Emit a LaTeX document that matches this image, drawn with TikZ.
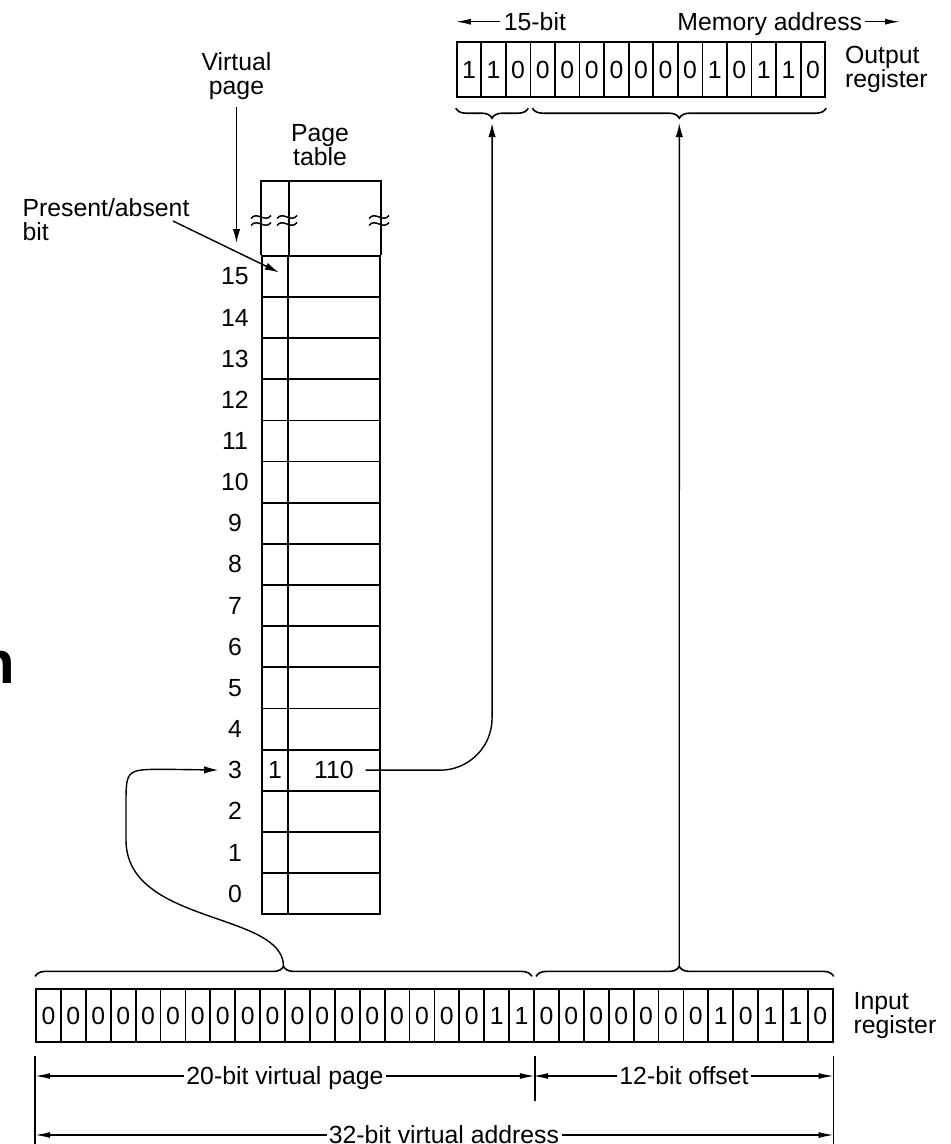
\documentclass[tikz,border=0pt]{standalone}
\usepackage{fontspec}
\setmainfont{Liberation Sans}
\usepackage{tikz}
\usetikzlibrary{positioning, arrows.meta, decorations.pathreplacing}

\begin{document}
\begin{tikzpicture}[x=1pt, y=-1pt, line width=1.8pt,
    font=\fontsize{24.8pt}{24pt}\selectfont,
    bitcell/.style={draw, inner sep=0pt, minimum width=24.9pt, minimum height=52.4pt},
    outcell/.style={bitcell, minimum width=24.57pt, minimum height=55pt},
    ptcell/.style={draw, inner sep=0pt, minimum height=41.15pt, anchor=north west},
    lbl/.style={inner sep=0pt, align=left},
    dimlbl/.style={inner sep=1.5pt, text height=17.8pt, text depth=0pt},
    conn/.style={line width=1.4pt, -{Latex[length=14pt, width=7.5pt]}},
    dimarrow/.style={line width=1.4pt, -{Latex[length=15pt, width=6pt]}},
    brc/.style={line width=1.6pt, decorate, decoration={brace, amplitude=10pt}}]
  \useasboundingbox (0,0) rectangle (951,1144);

  \node[anchor=base east, inner sep=0pt, font=\fontsize{60pt}{60pt}\selectfont\bfseries] (frag) at (16,683) {n};

  \foreach \b [count=\i from 0] in {1,1,0,0,0,0,0,0,0,0,1,0,1,1,0}
    \node[outcell] (out\i) at ({456.7+24.57*(\i+0.5)}, 69.8) {\b};
  \node[lbl, right=18pt of out14] (outlbl) {Output\\register};
  \node[dimlbl, inner sep=3pt, anchor=base west] (bits15) at (500,30.6) {15-bit};
  \node[dimlbl, inner sep=2pt, anchor=base east] (memaddr) at (865,30.6) {Memory address};
  \draw[dimarrow] (bits15.west) -- (bits15.west -| out0.west);
  \draw[dimarrow] (memaddr.east) -- ++(35,0);
  \draw[brc] ([xshift=-3pt, yshift=-10pt]out2.south east) -- ([yshift=-10pt]out0.south west)
    coordinate[midway, yshift=-10pt] (outTipL);
  \draw[brc] ([yshift=-10pt]out14.south east) -- ([xshift=3pt, yshift=-10pt]out3.south west)
    coordinate[midway, yshift=-10pt] (outTipR);

  \foreach \b [count=\i from 0] in {0,0,0,0,0,0,0,0,0,0,0,0,0,0,0,0,0,0,1,1,0,0,0,0,0,0,0,1,0,1,1,0}
    \node[bitcell] (in\i) at ({36+24.9*(\i+0.5)}, 1015.5) {\b};
  \node[lbl, right=19pt of in31] (inlbl) {Input\\register};
  \draw[brc] ([yshift=12pt]in0.north west) -- ([xshift=-3pt, yshift=12pt]in19.north east)
    coordinate[midway, yshift=10pt] (inTipL);
  \draw[brc, decoration={aspect=0.481}] ([xshift=3pt, yshift=12pt]in20.north west) -- ([yshift=12pt]in31.north east)
    coordinate[pos=0.481, yshift=10pt] (inTipR);

  \draw[line width=1.4pt] ([yshift=-13pt]in0.south west) -- ++(0,100);
  \draw[line width=1.4pt] ([yshift=-13pt]in19.south east) -- ++(0,45);
  \draw[line width=1.4pt] ([yshift=-13pt]in31.south east) -- ++(0,100);
  \node[dimlbl] (vpdim) at (285,1076) {20-bit virtual page};
  \node[dimlbl] (offdim) at (684,1076) {12-bit offset};
  \node[dimlbl] (vadim) at (444,1135) {32-bit virtual address};
  \draw[dimarrow] (vpdim.west) -- (vpdim.west -| in0.west);
  \draw[dimarrow] (vpdim.east) -- (vpdim.east -| in19.east);
  \draw[dimarrow] (offdim.west) -- (offdim.west -| in20.west);
  \draw[dimarrow] (offdim.east) -- (offdim.east -| in31.east);
  \draw[dimarrow] (vadim.west) -- (vadim.west -| in0.west);
  \draw[dimarrow] (vadim.east) -- (vadim.east -| in31.east);

  \foreach \r in {0,...,15} {
    \node[ptcell, minimum width=26pt] (p\r) at (261, {913.3-41.15*(\r+1)}) {};
    \node[ptcell, minimum width=92pt] (f\r) at (287, {913.3-41.15*(\r+1)}) {};
    \node[inner sep=0pt] (lbl\r) at ([xshift=-26pt]p\r.west) {\r};
  }
  \draw (p15.north west) -- ++(0,-74.2) -| (f15.north east);
  \draw (p15.north east) -- ++(0,-74.2);
  \foreach \x in {261,287,379}
    \foreach \y in {217,224}
      \draw[line width=1.5pt] ({\x-10},{\y+1.5}) .. controls +(6,-8) and +(-6,8) .. ({\x+10},{\y-1.5});
  \node (pbit) at (p3) {1};
  \node[inner sep=0pt] (pfn) at (f3) {110};
  \node[lbl, align=center] (ptlbl) at (320,145) {Page\\table};
  \node[lbl, align=center] (vplabel) at (236.5,75.6) {Virtual\\page};
  \node[lbl, anchor=west] (palbl) at (21.7,219.5) {Present/absent\\bit};

  \coordinate (vpend) at (236.5,243);
  \coordinate (pastart) at (173,221);
  \draw[conn, shorten <=7pt] (vplabel.south) -- (vpend);
  \draw[conn] (pastart) -- ([xshift=4pt, yshift=4pt]p15.center);
  \draw[conn, rounded corners=52pt, shorten <=11pt, shorten >=5pt] (pfn.east) -| (outTipL);
  \draw[conn, shorten >=5pt] (inTipR) -- (outTipR);
  \draw[conn, shorten >=9pt] (inTipL) .. controls +(0,-55) and (126,925) .. (126,840) -- (126,805)
    .. controls (126,769.3) .. (166,769.3) -- (lbl3.west);
\end{tikzpicture}
\end{document}
